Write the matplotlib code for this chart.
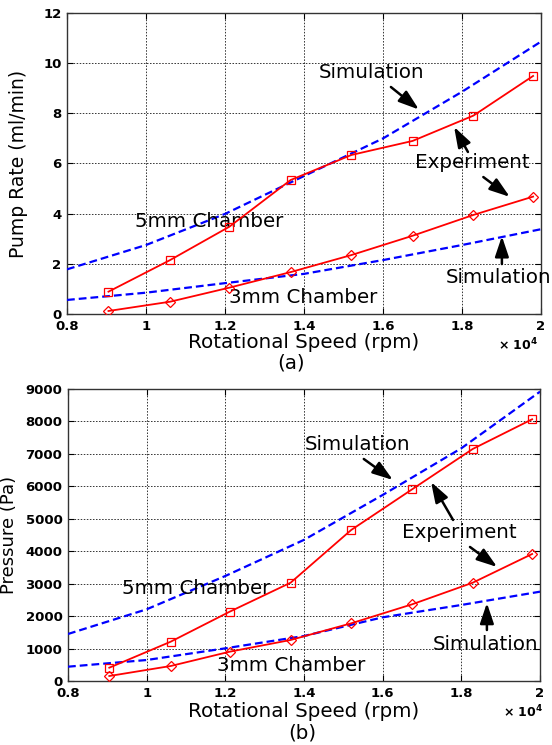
import numpy as np
import matplotlib
matplotlib.use("Agg")
import matplotlib.pyplot as plt
from matplotlib.ticker import FuncFormatter

# ---------------------------------------------------------------
# data (speed in units of 1e4 rpm)
# ---------------------------------------------------------------
speed_exp = [0.905, 1.061, 1.211, 1.366, 1.520, 1.675, 1.829, 1.980]
speed_sim = [0.8, 1.0, 1.2, 1.4, 1.6, 1.8, 2.0]

# (a) pump rate, ml/min
rate_5mm_exp = [0.89, 2.15, 3.48, 5.34, 6.34, 6.90, 7.91, 9.49]
rate_3mm_exp = [0.12, 0.49, 1.05, 1.67, 2.35, 3.12, 3.95, 4.68]
rate_5mm_sim = [1.78, 2.75, 3.99, 5.50, 7.00, 8.86, 10.86]
rate_3mm_sim = [0.56, 0.85, 1.23, 1.60, 2.15, 2.75, 3.38]

# (b) pressure, Pa
pres_5mm_exp = [410, 1211, 2136, 3030, 4655, 5909, 7152, 8067]
pres_3mm_exp = [154, 462, 903, 1264, 1778, 2364, 3030, 3915]
pres_5mm_sim = [1449, 2210, 3237, 4350, 5734, 7173, 8918]
pres_3mm_sim = [441, 647, 1007, 1387, 1963, 2343, 2753]

xticks = [0.8, 1.0, 1.2, 1.4, 1.6, 1.8, 2.0]

RED = '#ff0000'
BLUE = '#0000ff'
TXT = 14.3
TICKFONT = dict(family='DejaVu Sans', weight='bold', size=9.5)

fig = plt.figure(figsize=(5.52, 7.45), dpi=100)
axA = fig.add_axes([67/552., 1-314/745., 474/552., 301/745.])
axB = fig.add_axes([68/552., 1-681/745., 472/552., 292/745.])


def style_axis(ax, yticks):
    ax.set_xlim(0.8, 2.0)
    ax.set_xticks(xticks)
    ax.set_yticks(yticks)
    ax.set_ylim(yticks[0], yticks[-1])
    ax.xaxis.set_major_formatter(FuncFormatter(lambda v, p: '%g' % v))
    ax.grid(True, color='k', linestyle=(0, (2, 2)), linewidth=0.55)
    ax.tick_params(direction='in', length=4, width=0.8, top=True, right=True, pad=4)
    for lab in ax.get_xticklabels() + ax.get_yticklabels():
        lab.set_fontproperties(matplotlib.font_manager.FontProperties(**TICKFONT))
    for sp in ax.spines.values():
        sp.set_linewidth(1.0)
        sp.set_color('#333333')


def draw_curves(ax, e5, e3, s5, s3):
    ax.plot(speed_sim, s5, color=BLUE, linestyle=(0, (3.5, 1.8)), linewidth=1.6, zorder=3)
    ax.plot(speed_sim, s3, color=BLUE, linestyle=(0, (3.5, 1.8)), linewidth=1.6, zorder=3)
    ax.plot(speed_exp, e5, color=RED, linewidth=1.3, marker='s', markersize=6,
            markerfacecolor='none', markeredgecolor=RED, markeredgewidth=0.9, zorder=4)
    ax.plot(speed_exp, e3, color=RED, linewidth=1.3, marker='D', markersize=5,
            markerfacecolor='none', markeredgecolor=RED, markeredgewidth=0.9, zorder=4)


def arrow(ax, tail, tip):
    ax.annotate('', xy=tip, xytext=tail,
                arrowprops=dict(arrowstyle='-|>,head_length=0.95,head_width=0.32',
                                color='k', lw=1.8, mutation_scale=13, shrinkA=0, shrinkB=0),
                zorder=6)


#%% (a) pump rate
draw_curves(axA, rate_5mm_exp, rate_3mm_exp, rate_5mm_sim, rate_3mm_sim)
style_axis(axA, list(range(0, 13, 2)))
axA.set_ylabel('Pump Rate (ml/min)', fontsize=13.5)
axA.yaxis.set_label_coords(-0.103, 0.5)
axA.yaxis.label.set_va('center')
axA.set_xlabel('Rotational Speed (rpm)', fontsize=TXT)
axA.xaxis.set_label_coords(0.5, -0.0963)
axA.xaxis.label.set_va('center')
axA.text(0.909, -0.103, u'\u00d7 10$^{\\mathbf{4}}$', transform=axA.transAxes,
         fontsize=9, fontweight='bold', va='center', ha='left')

axA.text(1.570, 9.61, 'Simulation', fontsize=TXT, ha='center', va='center')
arrow(axA, (1.620, 9.05), (1.691, 8.15))
axA.text(1.827, 6.02, 'Experiment', fontsize=TXT, ha='center', va='center')
arrow(axA, (1.815, 6.46), (1.780, 7.46))
arrow(axA, (1.854, 5.46), (1.921, 4.67))
axA.text(1.892, 1.475, 'Simulation', fontsize=TXT, ha='center', va='center', clip_on=False)
arrow(axA, (1.901, 1.99), (1.901, 3.10))
axA.text(0.972, 3.67, '5mm Chamber', fontsize=TXT, ha='left', va='center')
axA.text(1.210, 0.64, '3mm Chamber', fontsize=TXT, ha='left', va='center')

#%% (b) pressure
draw_curves(axB, pres_5mm_exp, pres_3mm_exp, pres_5mm_sim, pres_3mm_sim)
style_axis(axB, list(range(0, 9001, 1000)))
axB.set_ylabel('Pressure (Pa)', fontsize=13)
axB.yaxis.set_label_coords(-0.124, 0.5)
axB.yaxis.label.set_va('center')
axB.set_xlabel('Rotational Speed (rpm)', fontsize=TXT)
axB.xaxis.set_label_coords(0.5, -0.106)
axB.xaxis.label.set_va('center')
axB.text(0.922, -0.106, u'\u00d7 10$^{\\mathbf{4}}$', transform=axB.transAxes,
         fontsize=9, fontweight='bold', va='center', ha='left')

axB.text(1.535, 7275, 'Simulation', fontsize=TXT, ha='center', va='center')
arrow(axB, (1.552, 6843), (1.626, 6196))
axB.text(1.794, 4562, 'Experiment', fontsize=TXT, ha='center', va='center')
arrow(axB, (1.779, 4963), (1.723, 6134))
arrow(axB, (1.822, 4131), (1.891, 3514))
axB.text(1.861, 1110, 'Simulation', fontsize=TXT, ha='center', va='center')
arrow(axB, (1.865, 1572), (1.865, 2404))
axB.text(0.937, 2836, '5mm Chamber', fontsize=TXT, ha='left', va='center')
axB.text(1.179, 493, '3mm Chamber', fontsize=TXT, ha='left', va='center')

# panel letters
fig.text(291/552., 1-363/745., '(a)', fontsize=TXT, ha='center', va='center')
fig.text(302/552., 1-733/745., '(b)', fontsize=TXT, ha='center', va='center')

plt.savefig('out.png', dpi=100)
